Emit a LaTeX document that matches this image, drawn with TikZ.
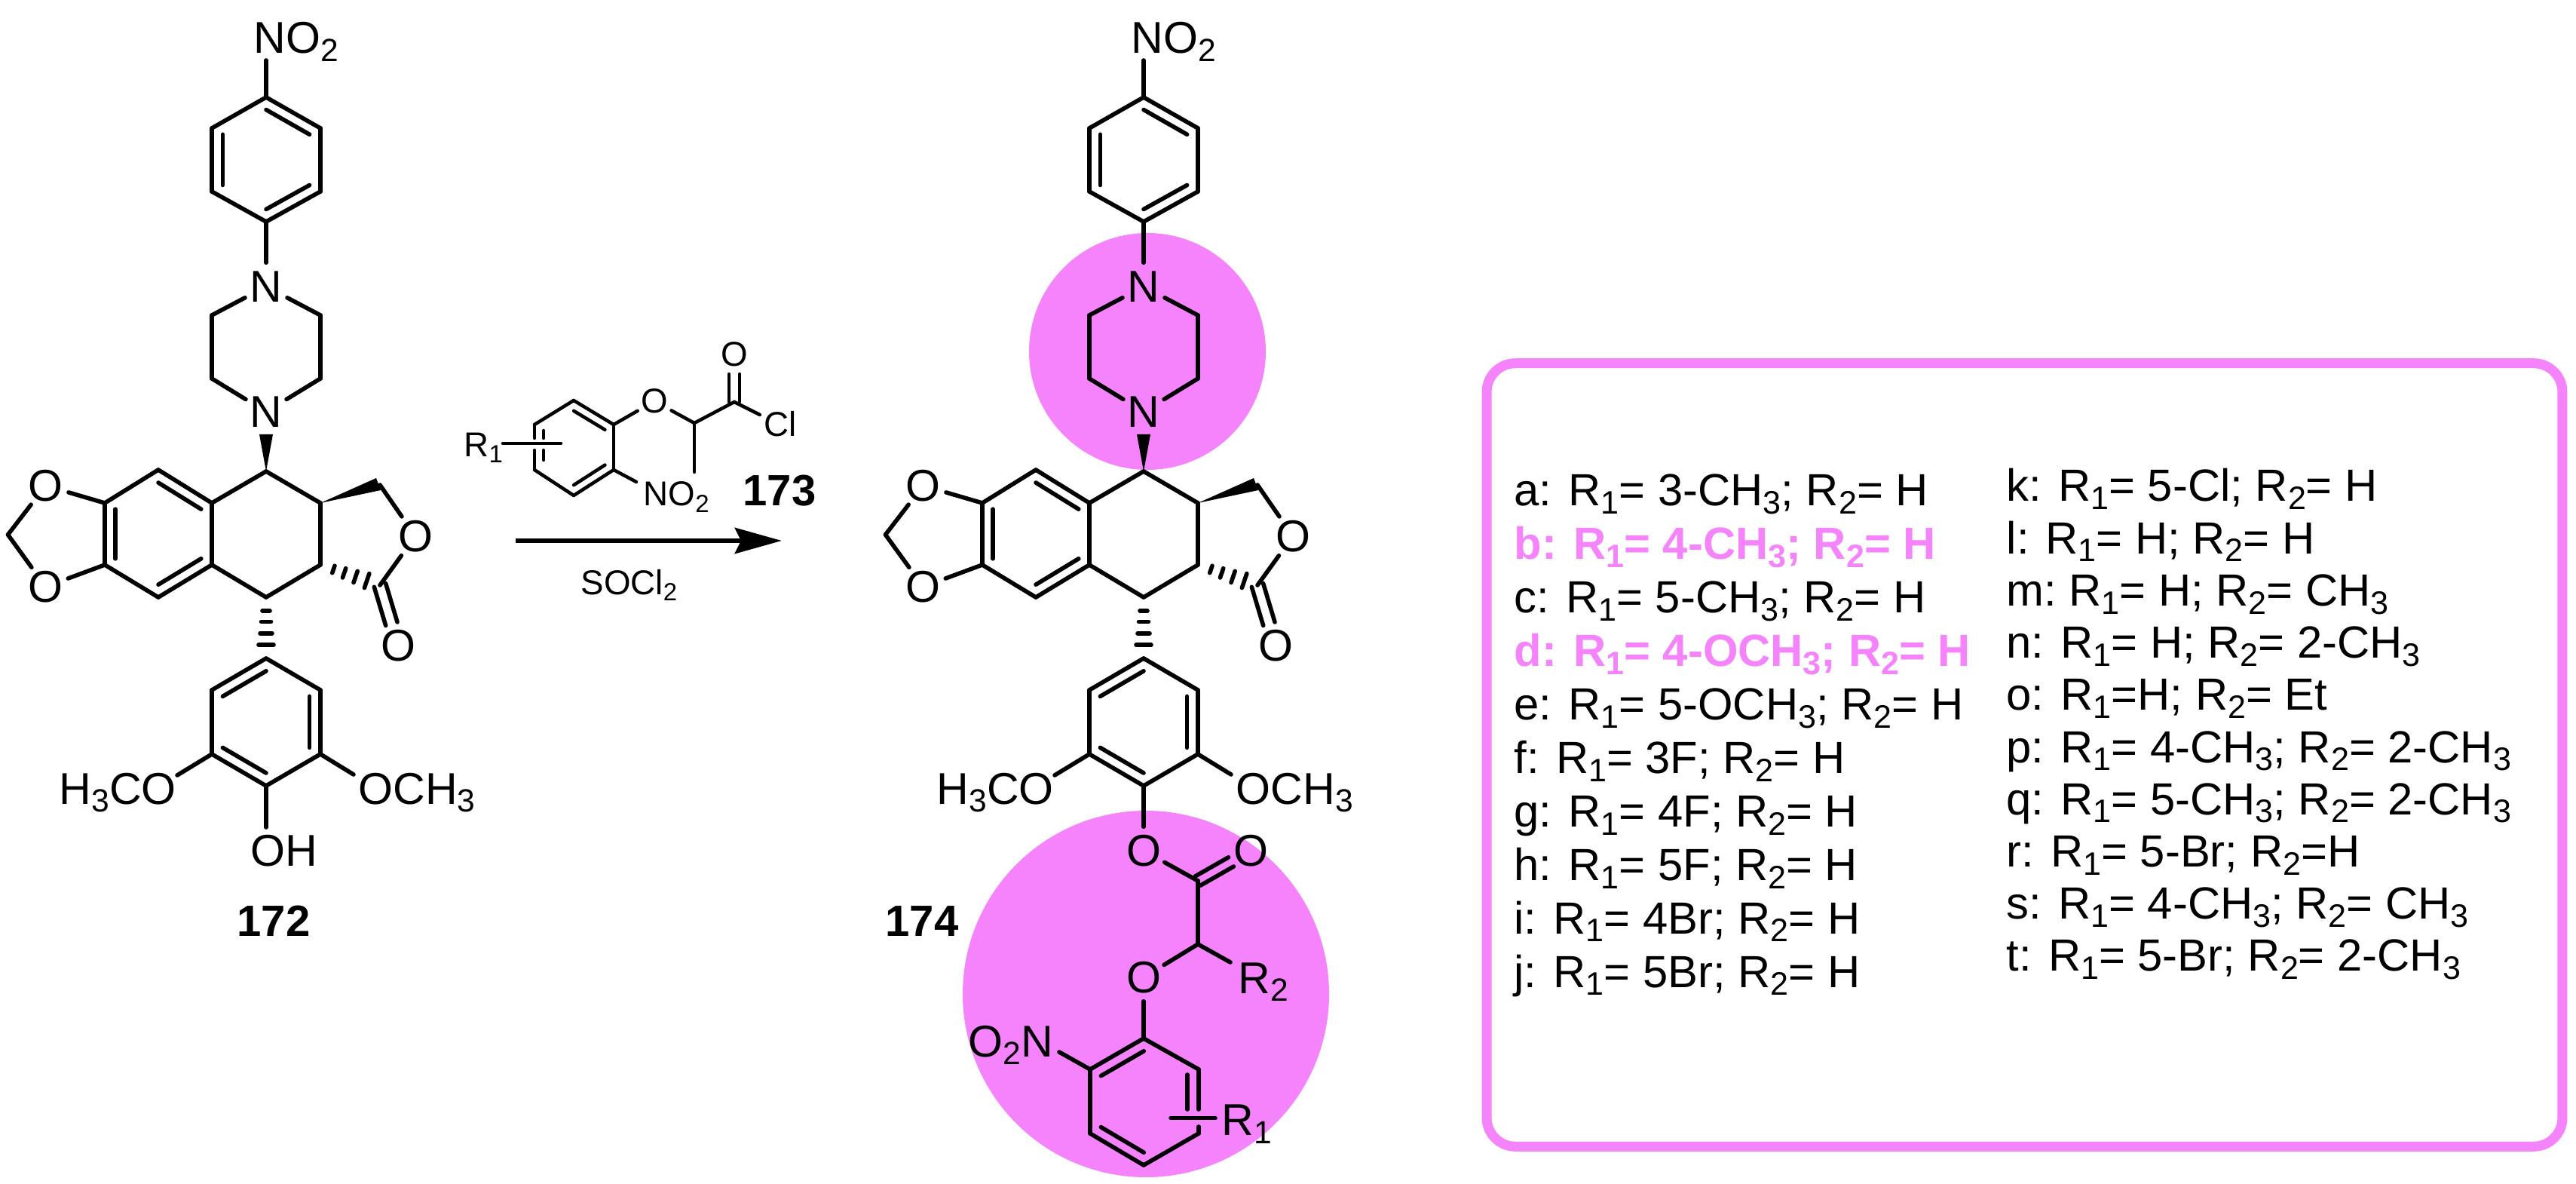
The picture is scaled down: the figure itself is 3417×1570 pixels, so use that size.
\documentclass[tikz,border=0pt]{standalone}
\usepackage{fontspec}
\usepackage{graphicx}
\usepackage{xcolor}
\usepackage{tikz}
\usetikzlibrary{calc,arrows.meta}
\setmainfont{Liberation Sans}
\definecolor{hilite}{HTML}{F483FC}
\newcommand{\subn}[1]{\raisebox{-.18em}{\scalebox{.72}{#1}}}
\newcommand{\rone}{R\subn{1}}
\newcommand{\rtwo}{R\subn{2}}
\newcommand{\innerbond}[3]{\draw[bond] ($(#1)!.2!(#3)$) -- ($(#2)!.2!(#3)$);}
\newcommand{\innersmall}[3]{\draw[bondsm] ($(#1)!.22!(#3)$) -- ($(#2)!.22!(#3)$);}
\newcommand{\hashbond}[2]{\foreach \f/\w in {.22/.05cm,.40/.065cm,.59/.08cm,.78/.1cm}
  \draw[bond] ($(#1)!\f!(#2)!\w!90:(#2)$) -- ($(#1)!\f!(#2)!\w!-90:(#2)$);}
\tikzset{
  bond/.style={line width=.056cm,line cap=round},
  bondsm/.style={line width=.045cm,line cap=round},
  atom/.style={shape=circle,inner sep=0pt,minimum size=.62cm,font=\fontsize{16.8}{16.8}\selectfont},
  atomsm/.style={shape=circle,inner sep=0pt,minimum size=.5cm,font=\fontsize{13}{13}\selectfont},
  lbl/.style={inner sep=0pt,anchor=base west,font=\fontsize{16.8}{16.8}\selectfont},
  lblsm/.style={inner sep=0pt,anchor=base west,font=\fontsize{13}{13}\selectfont},
  cmpd/.style={inner sep=0pt,anchor=base west,font=\fontsize{16.5}{16.5}\selectfont\bfseries},
  rowtxt/.style={lbl,font=\fontsize{17}{17}\selectfont},
  rowhi/.style={lbl,text=hilite,font=\fontsize{17}{17}\selectfont\bfseries},
  pics/podo/.style={code={
    % nitrophenyl, piperazine, tetracycle and the lower aryl, up to its para carbon
    \foreach \n/\x/\y in {a1/0/129,a2/72/170,a3/72/254,a4/0/294,a5/-72/254,a6/-72/170,ca/0/211.5,
      p2/72/418,p3/72/502,p5/-72/502,p6/-72/418,
      b1/0/625,b2/72/667,b3/72/749,b4/0/792,b5/-72/749,b6/-72/667,
      c1/-143/623,c2/-214/667,c3/-214/749,c4/-143/792,cc/-143/708,ch2/-342.5/709,
      d1/151/643,d2/151/776,w1/-9/576,w2/9/576,w3/146/634,w4/152/650,
      e1/0/873,e2/72/915,e3/72/1000,e4/0/1042,e5/-72/1000,e6/-72/915,ce/0/957,
      no2b/0/80,meol/-118/1028,meor/116/1027}
      \coordinate (-\n) at (\x,\y);
    \node[atom] (-n1) at (0,380) {N};
    \node[atom] (-n4) at (0,546) {N};
    \node[atom] (-ot) at (-292.5,644) {O};
    \node[atom] (-ob) at (-292.5,778) {O};
    \node[atom] (-ol) at (198,711) {O};
    \node[atom] (-oc) at (175,856) {O};
    \node[lbl] (-no2) at (-17,71) {NO\subn{2}};
    \node[lbl] (-h3co) at (-275,1066) {H\subn{3}CO};
    \node[lbl] (-och3) at (122,1066) {OCH\subn{3}};
    \foreach \u/\v in {no2b/a1,a1/a2,a2/a3,a3/a4,a4/a5,a5/a6,a6/a1,a4/n1,
      n1/p2,p2/p3,p3/n4,n4/p5,p5/p6,p6/n1,
      b1/b2,b2/b3,b3/b4,b4/b5,b5/b6,b6/b1,b6/c1,c1/c2,c2/c3,c3/c4,c4/b5,
      c2/ot,ot/ch2,ch2/ob,ob/c3,d1/ol,ol/d2,
      e1/e2,e2/e3,e3/e4,e4/e5,e5/e6,e6/e1,e5/meol,e3/meor}
      \draw[bond] (-\u) -- (-\v);
    \innerbond{-a1}{-a2}{-ca}
    \innerbond{-a3}{-a4}{-ca}
    \innerbond{-a5}{-a6}{-ca}
    \innerbond{-c1}{-b6}{-cc}
    \innerbond{-c2}{-c3}{-cc}
    \innerbond{-c4}{-b5}{-cc}
    \innerbond{-e1}{-e6}{-ce}
    \innerbond{-e2}{-e3}{-ce}
    \innerbond{-e4}{-e5}{-ce}
    \fill (-b1) -- (-w1) -- (-w2) -- cycle;
    \fill (-b2) -- (-w3) -- (-w4) -- cycle;
    \hashbond{-b3}{-d2}
    \hashbond{-b4}{-e1}
    \draw[bond,shorten >=.3cm] ($(-d2)!.08cm!90:(-oc)$) -- ($(-oc)!.08cm!-90:(-d2)$);
    \draw[bond,shorten >=.3cm] ($(-d2)!.08cm!-90:(-oc)$) -- ($(-oc)!.08cm!90:(-d2)$);
  }}
}
\begin{document}
\begin{tikzpicture}[x=.01cm,y=-.01cm]
  \useasboundingbox (0,0) rectangle (3417,1570);
  \fill[hilite] (1522,466) circle (157);
  \fill[hilite] (1520,1318) circle (243);
  \pic (sm) at (353,0) {podo};
  \pic (prod) at (1517,0) {podo};
  % left: phenol end
  \coordinate (ohb) at (353,1097);
  \node[lbl] (oh) at (332,1148) {OH};
  \draw[bond] (sm-e4) -- (ohb);
  \node[cmpd] (n172) at (314,1241) {172};
  % right: ester and nitroaryl ether
  \foreach \n/\x/\y in {h1/1589/1168,h2/1589/1252,r2b/1632/1276,
    f1/1517/1377,f2/1590/1418,f3/1590/1503,f4/1517/1545,f5/1446/1503,f6/1446/1418,cf/1518/1461,
    f2a/1590/1471,f2b/1590/1494,fi1/1575/1425,fi2/1575/1471,
    nb/1405/1395,bar1/1553/1482.6,bar2/1612/1482.6}
    \coordinate (\n) at (\x,\y);
  \node[atom] (oe) at (1517,1128) {O};
  \node[atom] (oa) at (1659,1128) {O};
  \node[atom] (op) at (1517,1296) {O};
  \node[lbl] (r2) at (1642,1317) {\rtwo};
  \node[lbl] (r1) at (1620,1505.5) {\rone};
  \node[lbl] (o2n) at (1284,1401) {O\subn{2}N};
  \node[cmpd] (n174) at (1174,1241) {174};
  \foreach \u/\v in {prod-e4/oe,oe/h1,h1/h2,h2/op,h2/r2b,op/f1,f1/f2,f2/f2a,f2b/f3,f3/f4,f4/f5,f5/f6,f6/f1,f6/nb,bar1/bar2,fi1/fi2}
    \draw[bond] (\u) -- (\v);
  \draw[bond,shorten >=.3cm] ($(h1)!.07cm!90:(oa)$) -- ($(oa)!.07cm!-90:(h1)$);
  \draw[bond,shorten >=.3cm] ($(h1)!.07cm!-90:(oa)$) -- ($(oa)!.07cm!90:(h1)$);
  \innerbond{f1}{f6}{cf}
  \innerbond{f4}{f5}{cf}
  % reagent
  \foreach \n/\x/\y in {g1/761/531,g2/814/563,g3/814/623,g4/761/657,g5/709/623,g6/709/563,cg/761.5/594,
    g6a/709/581,g5a/709/597,gi1/721/571,gi2/721/581,gi3/721/597,gi4/721/610,
    gch/921/561,gme/921/626,gco/974/533,clb/1008/550,nob/844/639,rb1/667/588,rb2/744/588}
    \coordinate (\n) at (\x,\y);
  \node[atomsm] (go) at (868,532) {O};
  \node[atomsm] (goc) at (974,470) {O};
  \node[lblsm] (gcl) at (1013,579) {Cl};
  \node[lblsm] (gno2) at (853,671) {NO\subn{2}};
  \node[lblsm] (gr1) at (615,605.6) {\rone};
  \node[cmpd] (n173) at (985,671) {173};
  \foreach \u/\v in {g1/g2,g2/g3,g3/g4,g4/g5,g5/g5a,g6a/g6,g6/g1,g2/go,go/gch,gch/gme,gch/gco,gco/clb,g3/nob,rb1/rb2,gi1/gi2,gi3/gi4}
    \draw[bondsm] (\u) -- (\v);
  \innersmall{g1}{g2}{cg}
  \innersmall{g3}{g4}{cg}
  \draw[bondsm,shorten >=.26cm] ($(gco)!.07cm!90:(goc)$) -- ($(goc)!.07cm!-90:(gco)$);
  \draw[bondsm,shorten >=.26cm] ($(gco)!.07cm!-90:(goc)$) -- ($(goc)!.07cm!90:(gco)$);
  % arrow
  \coordinate (arr1) at (684,717);
  \coordinate (arr2) at (1037,717);
  \draw[line width=.065cm,-{Stealth[length=.62cm,width=.34cm,inset=.08cm]}] (arr1) -- (arr2);
  \node[lblsm] (socl) at (770,788) {SOCl\subn{2}};
  % table of substituents
  \node[draw=hilite,line width=.13cm,rounded corners=.38cm,inner sep=0pt,minimum width=14.26cm,minimum height=10.38cm] (tbl) at (2685.5,1001) {};
  \foreach \txt/\sty [count=\i from 0] in {
    a: \rone= 3-CH\subn{3}; \rtwo= H/rowtxt,
    b: \rone= 4-CH\subn{3}; \rtwo= H/rowhi,
    c: \rone= 5-CH\subn{3}; \rtwo= H/rowtxt,
    d: \rone= 4-OCH\subn{3}; \rtwo= H/rowhi,
    e: \rone= 5-OCH\subn{3}; \rtwo= H/rowtxt,
    f: \rone= 3F; \rtwo= H/rowtxt,
    g: \rone= 4F; \rtwo= H/rowtxt,
    h: \rone= 5F; \rtwo= H/rowtxt,
    i: \rone= 4Br; \rtwo= H/rowtxt,
    j: \rone= 5Br; \rtwo= H/rowtxt}
    \node[\sty] (rowl\i) at (2008,671+70.9*\i) {\txt};
  \foreach \txt [count=\i from 0] in {
    k: \rone= 5-Cl; \rtwo= H,
    l: \rone= H; \rtwo= H,
    m:~\rone= H; \rtwo= CH\subn{3},
    n: \rone= H; \rtwo= 2-CH\subn{3},
    o: \rone=H; \rtwo= Et,
    p: \rone= 4-CH\subn{3}; \rtwo= 2-CH\subn{3},
    q: \rone= 5-CH\subn{3}; \rtwo= 2-CH\subn{3},
    r: \rone= 5-Br; \rtwo=H,
    s: \rone= 4-CH\subn{3}; \rtwo= CH\subn{3},
    t: \rone= 5-Br; \rtwo= 2-CH\subn{3}}
    \node[rowtxt] (rowr\i) at (2661,665+69.2*\i) {\txt};
\end{tikzpicture}
\end{document}
